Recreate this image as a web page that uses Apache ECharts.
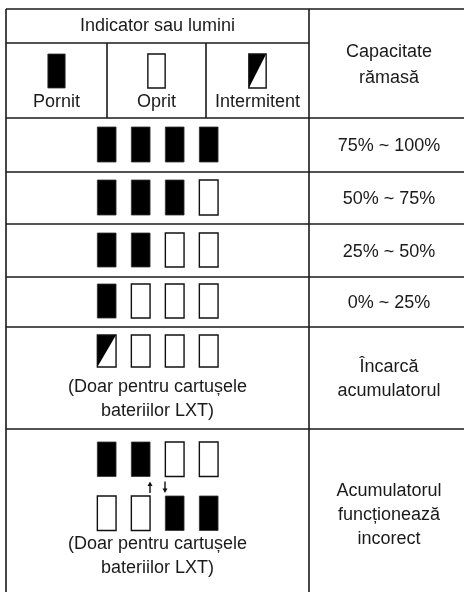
<!DOCTYPE html>
<html>
<head>
<meta charset="utf-8">
<script src="https://cdn.jsdelivr.net/npm/echarts@6/dist/echarts.min.js"></script>
<style>
html,body{margin:0;padding:0;background:#fff;}
#main{width:464px;height:592px;}
</style>
</head>
<body>
<div id="main"></div>
<script>
// ---------------- data ----------------
const headerTitle = 'Indicator sau lumini';
const legendLabels = ['Pornit', 'Oprit', 'Intermitent'];
const legendStates = [1, 0, 2];            // 1 = on, 0 = off, 2 = blinking
const capacityHeader = 'Capacitate\nrămasă';
const rowStates = [
  [1, 1, 1, 1],
  [1, 1, 1, 0],
  [1, 1, 0, 0],
  [1, 0, 0, 0],
  [2, 0, 0, 0]
];
const rowLabels = ['75% ~ 100%', '50% ~ 75%', '25% ~ 50%', '0% ~ 25%', 'Încarcă\nacumulatorul'];
const faultStatesTop = [1, 1, 0, 0];
const faultStatesBottom = [0, 0, 1, 1];
const faultLabel = 'Acumulatorul\nfuncționează\nincorect';
const lxtNote = '(Doar pentru cartușele\nbateriilor LXT)';

// ---------------- layout ----------------
const W = 464, H = 592;
const L = {
  left: 6, top: 9, split: 309,
  legendCols: [6, 107, 206, 309],
  headerMid: 43, headerBottom: 118,
  rowLines: [172, 224, 277, 327, 429],
  slotX0: 106.7, slotStep: 34, slotW: 18.7,
  rowRectTop: [127, 180, 233, 284, 335],
  rowRectH: [35, 35, 34, 34, 32],
  faultTopY: 442, faultBottomY: 496, faultH: 34.5,
  legendIconTop: 54, legendIconH: 34, legendIconW: 17.3,
  rightCenter: 389
};
const rowEdges = [L.headerBottom].concat(L.rowLines);
const FONT = '"Liberation Sans", Arial, Helvetica, sans-serif';
const TXT = '#1a1a1a';

// build line segments
const lineData = [];
lineData.push([L.left, L.top, W, L.top]);
lineData.push([L.left, L.top, L.left, H]);
lineData.push([L.split, L.top, L.split, H]);
lineData.push([L.left, L.headerMid, L.split, L.headerMid]);
lineData.push([L.legendCols[1], L.headerMid, L.legendCols[1], L.headerBottom]);
lineData.push([L.legendCols[2], L.headerMid, L.legendCols[2], L.headerBottom]);
rowEdges.forEach(y => lineData.push([L.left, y, W, y]));

// indicator rectangles: [cx, top, h, w, state]
const indData = [];
legendStates.forEach((s, i) => {
  const cx = (L.legendCols[i] + L.legendCols[i + 1]) / 2;
  indData.push([cx, L.legendIconTop, L.legendIconH, L.legendIconW, s]);
});
rowStates.forEach((states, r) => {
  states.forEach((s, k) => {
    indData.push([L.slotX0 + k * L.slotStep, L.rowRectTop[r], L.rowRectH[r], L.slotW, s]);
  });
});
faultStatesTop.forEach((s, k) => indData.push([L.slotX0 + k * L.slotStep, L.faultTopY, L.faultH, L.slotW, s]));
faultStatesBottom.forEach((s, k) => indData.push([L.slotX0 + k * L.slotStep, L.faultBottomY, L.faultH, L.slotW, s]));

// texts: [x, y, lineHeight, textIndex]
const texts = [];
const textData = [];
function addText(str, x, y, lh) { texts.push(str); textData.push([x, y, lh, texts.length - 1]); }
addText(headerTitle, (L.left + L.split) / 2, 26.5, 24);
legendLabels.forEach((t, i) => addText(t, (L.legendCols[i] + L.legendCols[i + 1]) / 2, 102, 24));
addText(capacityHeader, L.rightCenter, 65.5, 26);
rowLabels.forEach((t, r) => {
  const yc = (rowEdges[r] + rowEdges[r + 1]) / 2 + 1.5;
  addText(t, L.rightCenter, r === 4 ? 379 : yc, 24);
});
addText(lxtNote, (L.left + L.split) / 2, 399, 24);
addText(lxtNote, (L.left + L.split) / 2, 556, 24);
addText(faultLabel, L.rightCenter, 515, 24);

// arrows: [x, yFrom, yTo]
const arrowData = [[150, 493, 481.5], [165, 481.5, 493]];

const option = {
  animation: false,
  backgroundColor: '#fff',
  grid: { left: 0, right: 0, top: 0, bottom: 0 },
  xAxis: { type: 'value', min: 0, max: W, show: false },
  yAxis: { type: 'value', min: 0, max: H, inverse: true, show: false },
  series: [
    {
      type: 'custom', data: lineData, silent: true,
      renderItem: (p, api) => {
        const a = api.coord([api.value(0), api.value(1)]);
        const b = api.coord([api.value(2), api.value(3)]);
        return { type: 'line', shape: { x1: a[0], y1: a[1], x2: b[0], y2: b[1] },
          style: { stroke: '#1a1a1a', lineWidth: 1.6 } };
      }
    },
    {
      type: 'custom', data: indData, silent: true,
      renderItem: (p, api) => {
        const cx = api.value(0), top = api.value(1), h = api.value(2), w = api.value(3), s = api.value(4);
        const a = api.coord([cx - w / 2, top]);
        const b = api.coord([cx + w / 2, top + h]);
        const shape = { x: a[0], y: a[1], width: b[0] - a[0], height: b[1] - a[1] };
        if (s === 1) {
          return { type: 'rect', shape, style: { fill: '#000', stroke: '#333', lineWidth: 0.8 } };
        }
        if (s === 0) {
          return { type: 'rect', shape, style: { fill: '#fff', stroke: '#111', lineWidth: 1.4 } };
        }
        return { type: 'group', children: [
          { type: 'rect', shape, style: { fill: '#fff' } },
          { type: 'polygon', shape: { points: [[a[0], a[1]], [b[0], a[1]], [a[0], b[1]]] }, style: { fill: '#000' } },
          { type: 'rect', shape, style: { fill: 'none', stroke: '#111', lineWidth: 1.4 } }
        ] };
      }
    },
    {
      type: 'custom', data: arrowData, silent: true,
      renderItem: (p, api) => {
        const a = api.coord([api.value(0), api.value(1)]);
        const b = api.coord([api.value(0), api.value(2)]);
        const dir = b[1] < a[1] ? -1 : 1;
        return { type: 'group', children: [
          { type: 'line', shape: { x1: a[0], y1: a[1], x2: b[0], y2: b[1] - dir * 3 }, style: { stroke: '#111', lineWidth: 1.4 } },
          { type: 'polygon', shape: { points: [[b[0], b[1]], [b[0] - 2.5, b[1] - dir * 4.5], [b[0] + 2.5, b[1] - dir * 4.5]] }, style: { fill: '#111' } }
        ] };
      }
    },
    {
      type: 'custom', data: textData, silent: true,
      renderItem: (p, api) => {
        const c = api.coord([api.value(0), api.value(1)]);
        return { type: 'text', x: c[0], y: c[1],
          style: { text: texts[api.value(3)], fill: TXT, font: '18px ' + FONT,
            align: 'center', verticalAlign: 'middle', lineHeight: api.value(2) } };
      }
    }
  ]
};
const chart = echarts.init(document.getElementById('main'));
chart.setOption(option);
</script>
</body>
</html>
